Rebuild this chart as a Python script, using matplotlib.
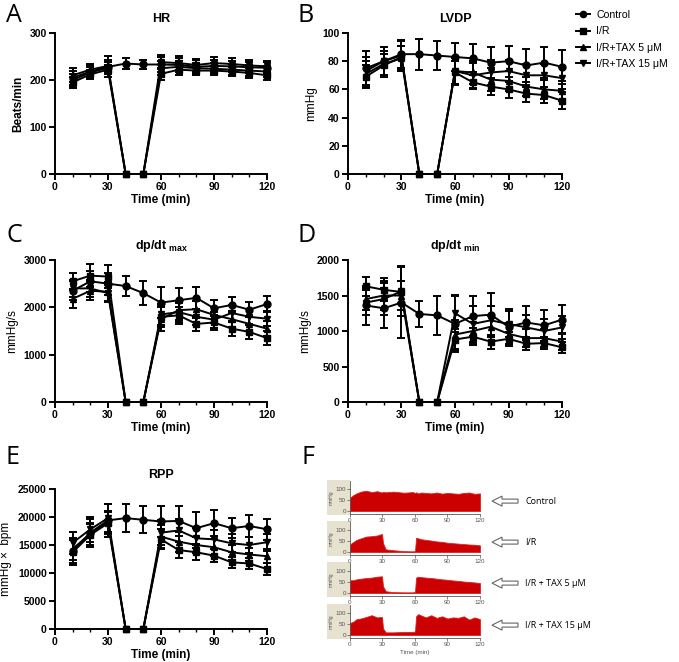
import matplotlib
matplotlib.use("Agg")
import matplotlib.pyplot as plt
from matplotlib.lines import Line2D
from matplotlib.patches import Rectangle, FancyArrow

plt.rcParams['font.family'] = ['Liberation Sans', 'DejaVu Sans']
plt.rcParams['mathtext.fontset'] = 'custom'
plt.rcParams['mathtext.rm'] = 'Liberation Sans:bold'
plt.rcParams['mathtext.bf'] = 'Liberation Sans:bold'

# ---------------- data ----------------
time = [10, 20, 30, 40, 50, 60, 70, 80, 90, 100, 110, 120]
groups = ["Control", "I/R", "I/R+TAX 5 \u03bcM", "I/R+TAX 15 \u03bcM"]
markers = ["o", "s", "^", "v"]

hr_mean = {
    "Control": [205, 218, 228, 235, 233, 233, 232, 228, 230, 229, 227, 226],
    "I/R":     [195, 212, 222, 0, 0, 213, 222, 220, 220, 218, 215, 210],
    "TAX5":    [210, 222, 230, 0, 0, 225, 228, 225, 224, 222, 220, 218],
    "TAX15":   [200, 216, 226, 0, 0, 238, 236, 232, 236, 234, 231, 229],
}
hr_err = {
    "Control": [15, 14, 22, 12, 10, 15, 15, 14, 12, 12, 12, 12],
    "I/R":     [12, 10, 10, 0, 0, 12, 12, 10, 10, 10, 10, 10],
    "TAX5":    [15, 12, 12, 0, 0, 15, 12, 12, 12, 12, 12, 12],
    "TAX15":   [12, 12, 12, 0, 0, 15, 15, 12, 12, 12, 12, 12],
}

lvdp_mean = {
    "Control": [75, 80, 85, 85, 84, 83, 82, 79, 80, 77, 79, 76],
    "I/R":     [69, 77, 83, 0, 0, 72, 65, 62, 60, 57, 56, 52],
    "TAX5":    [71, 78, 82, 0, 0, 73, 72, 67, 66, 62, 60, 59],
    "TAX15":   [73, 80, 84, 0, 0, 73, 70, 72, 73, 70, 70, 68],
}
lvdp_err = {
    "Control": [12, 10, 10, 11, 10, 10, 10, 11, 11, 12, 11, 12],
    "I/R":     [8, 8, 8, 0, 0, 8, 5, 6, 6, 6, 6, 6],
    "TAX5":    [9, 9, 9, 0, 0, 9, 8, 8, 7, 7, 7, 7],
    "TAX15":   [10, 10, 10, 0, 0, 10, 9, 9, 8, 8, 8, 8],
}

dpmax_mean = {
    "Control": [2350, 2550, 2500, 2450, 2300, 2100, 2150, 2200, 1980, 2050, 1950, 2070],
    "I/R":     [2550, 2670, 2650, 0, 0, 1800, 1830, 1650, 1680, 1550, 1480, 1350],
    "TAX5":    [2180, 2350, 2330, 0, 0, 1750, 1940, 1960, 1840, 1750, 1650, 1550],
    "TAX15":   [2400, 2400, 2300, 0, 0, 1850, 1900, 1800, 1740, 1880, 1800, 1760],
}
dpmax_err = {
    "Control": [200, 220, 230, 220, 250, 330, 250, 230, 170, 170, 160, 160],
    "I/R":     [180, 250, 240, 0, 0, 220, 180, 150, 160, 150, 150, 150],
    "TAX5":    [200, 200, 200, 0, 0, 250, 200, 180, 170, 170, 160, 160],
    "TAX15":   [180, 180, 180, 0, 0, 220, 200, 170, 170, 170, 160, 160],
}

dpmin_mean = {
    "Control": [1360, 1320, 1400, 1240, 1220, 1100, 1210, 1230, 1060, 1120, 1080, 1160],
    "I/R":     [1630, 1580, 1550, 0, 0, 880, 920, 850, 890, 820, 830, 770],
    "TAX5":    [1450, 1500, 1500, 0, 0, 950, 1000, 1060, 960, 900, 900, 850],
    "TAX15":   [1400, 1450, 1560, 0, 0, 1250, 1100, 1150, 1100, 1050, 1000, 1050],
}
dpmin_err = {
    "Control": [270, 280, 500, 180, 280, 400, 280, 300, 250, 230, 220, 200],
    "I/R":     [130, 160, 160, 0, 0, 150, 120, 100, 100, 90, 90, 80],
    "TAX5":    [150, 200, 200, 0, 0, 200, 180, 150, 150, 130, 130, 120],
    "TAX15":   [180, 220, 350, 0, 0, 260, 250, 200, 180, 170, 170, 160],
}

rpp_mean = {
    "Control": [14000, 17200, 19400, 19800, 19500, 19200, 19300, 18000, 18900, 18000, 18400, 17800],
    "I/R":     [13700, 16800, 18900, 0, 0, 16000, 14100, 13700, 13100, 11900, 11700, 10700],
    "TAX5":    [14300, 17000, 19100, 0, 0, 16500, 15600, 15000, 14600, 13700, 13300, 13000],
    "TAX15":   [15400, 17800, 19800, 0, 0, 17200, 17600, 16200, 16000, 15300, 15000, 15500],
}
rpp_err = {
    "Control": [2200, 2500, 3000, 2500, 2400, 2800, 2700, 2900, 2300, 1800, 1900, 1900],
    "I/R":     [2200, 2000, 2000, 0, 0, 1800, 1500, 1300, 1200, 1000, 1000, 1000],
    "TAX5":    [2000, 2000, 2000, 0, 0, 2000, 1800, 1500, 1500, 1300, 1200, 1200],
    "TAX15":   [2000, 2200, 2500, 0, 0, 2200, 2000, 1800, 1700, 1600, 1500, 1500],
}

series_keys = ["Control", "I/R", "TAX5", "TAX15"]

# Panel F traces (upper envelope of pressure, mmHg)
trace_t = [0, 3, 6, 10, 15, 20, 25, 29.5, 30.5, 33, 40, 50, 58, 60, 61, 63, 66, 70, 75, 80,
           85, 90, 95, 100, 105, 110, 115, 120]
trace_names = ["Control", "I/R", "I/R + TAX 5 \u03bcM", "I/R + TAX 15 \u03bcM"]
trace_ctrl = [60, 72, 80, 88, 92, 86, 90, 84, 87, 85, 88, 83, 86, 82, 85, 80, 84, 82, 80, 84,
              79, 82, 80, 78, 82, 84, 78, 80]
trace_ir = [35, 45, 55, 62, 70, 72, 75, 82, 40, 12, 8, 4, 3, 4, 65, 62, 58, 55, 52, 48,
            46, 42, 40, 38, 36, 34, 33, 30]
trace_tax5 = [58, 58, 62, 65, 68, 70, 74, 76, 30, 8, 4, 3, 3, 5, 70, 74, 72, 70, 68, 65,
              62, 60, 57, 55, 52, 50, 48, 45]
trace_tax15 = [55, 60, 72, 75, 82, 90, 80, 82, 30, 12, 12, 14, 14, 16, 85, 95, 88, 80, 90, 78,
               85, 75, 80, 78, 85, 70, 80, 72]
trace_vals = [trace_ctrl, trace_ir, trace_tax5, trace_tax15]

# ---------------- figure ----------------
W, H = 679, 662
fig = plt.figure(figsize=(W / 100, H / 100), dpi=100)


def px_axes(x0, x1, ytop, ybot):
    return fig.add_axes([x0 / W, 1 - ybot / H, (x1 - x0) / W, (ybot - ytop) / H])


def draw_panel(ax, means, errs, ymax, ystep, title, ylabel, ylabel_bold=True):
    for key, mk in zip(series_keys, markers):
        ax.errorbar(time, means[key], yerr=errs[key], color="black", marker=mk,
                    markersize=5, lw=1.4, elinewidth=1.4, capsize=3.2, capthick=1.4,
                    clip_on=False, zorder=3)
    ax.set_xlim(0, 120)
    ax.set_ylim(0, ymax)
    ax.set_xticks([0, 30, 60, 90, 120])
    ax.set_xticks(range(0, 121, 10), minor=True)
    ax.set_yticks(range(0, ymax + 1, ystep))
    for s in ["top", "right"]:
        ax.spines[s].set_visible(False)
    for s in ["left", "bottom"]:
        ax.spines[s].set_linewidth(1.4)
    ax.tick_params(axis="both", which="major", length=4, width=1.4, labelsize=7.5, pad=2)
    ax.tick_params(axis="x", which="minor", length=2, width=1.0)
    for lab in ax.get_xticklabels() + ax.get_yticklabels():
        lab.set_fontweight("bold")
    ax.set_xlabel("Time (min)", fontsize=8.5, fontweight="bold", labelpad=1)
    ax.set_ylabel(ylabel, fontsize=8.5, fontweight="bold" if ylabel_bold else "normal", labelpad=4)
    ax.set_title(title, fontsize=9, fontweight="bold", pad=8)


axA = px_axes(55, 267, 33, 174)
draw_panel(axA, hr_mean, hr_err, 300, 100, "HR", "Beats/min")
axB = px_axes(348, 562, 33, 174)
draw_panel(axB, lvdp_mean, lvdp_err, 100, 20, "LVDP", "mmHg", ylabel_bold=False)
axC = px_axes(55, 267, 260, 402)
draw_panel(axC, dpmax_mean, dpmax_err, 3000, 1000, r"dp/dt$_{\rm\ max}$", "mmHg/s", ylabel_bold=False)
axD = px_axes(348, 562, 260, 402)
draw_panel(axD, dpmin_mean, dpmin_err, 2000, 500, r"dp/dt$_{\rm\ min}$", "mmHg/s", ylabel_bold=False)
axE = px_axes(55, 267, 489, 629)
draw_panel(axE, rpp_mean, rpp_err, 25000, 5000, "RPP", "mmHg \u00d7  bpm", ylabel_bold=False)

# legend
handles = [Line2D([0], [0], color="black", marker=m, markersize=4.5, lw=1.4) for m in markers]
fig.legend(handles, groups, loc="upper left", bbox_to_anchor=(576 / W, 1 - 10 / H),
           frameon=False, fontsize=7.6, handlelength=1.3, handletextpad=0.6,
           labelspacing=0.6, borderaxespad=0, borderpad=0)

# overlay in pixel coords for letters / arrows / boxes
ov = fig.add_axes([0, 0, 1, 1], zorder=-1)
ov.set_xlim(0, W)
ov.set_ylim(H, 0)
ov.axis("off")
ov2 = fig.add_axes([0, 0, 1, 1], zorder=5)
ov2.set_xlim(0, W)
ov2.set_ylim(H, 0)
ov2.axis("off")
for letter, (lx, ly) in zip("ABCDEF", [(6, 16), (298, 16), (6, 236), (298, 236), (6, 457), (302, 458)]):
    ov2.text(lx, ly, letter, fontsize=18, family="Open Sans", va="center", ha="left")

# Panel F traces
zero_px = [511, 552, 593, 635]
scale = 0.22  # px per mmHg
for i, (vals, name, y0) in enumerate(zip(trace_vals, trace_names, zero_px)):
    ytop = y0 - 135 * scale
    ybot = y0 + 14 * scale
    ov.add_patch(Rectangle((327, ytop - 1), 23, ybot - ytop + 2, facecolor="#e6e2cf",
                           edgecolor="none"))
    axf = px_axes(350, 480, ytop, ybot)
    axf.fill_between(trace_t, 0, vals, color="#cc0000", lw=0.6, edgecolor="#dd2020")
    axf.set_xlim(0, 120)
    axf.set_ylim(-14, 135)
    axf.set_xticks([0, 30, 60, 90, 120])
    axf.set_yticks([0, 50, 100])
    axf.patch.set_alpha(0)
    for s in ["top", "right"]:
        axf.spines[s].set_visible(False)
    for s in ["left", "bottom"]:
        axf.spines[s].set_linewidth(0.6)
        axf.spines[s].set_color("#555555")
    axf.tick_params(length=2, width=0.5, labelsize=4.5, pad=1, colors="#555555")
    axf.set_ylabel("mmHg", fontsize=3.5, color="#555555", labelpad=1)
    if i == 3:
        axf.set_xlabel("Time (min)", fontsize=4.5, color="#555555", labelpad=2)
    yc = y0 - 45 * scale
    ov2.add_patch(FancyArrow(518, yc, -26, 0, width=4, head_width=10, head_length=10,
                             length_includes_head=True, facecolor="white",
                             edgecolor="#666666", lw=0.8))
    ov2.text(525, yc, name, fontsize=6.5, family="Open Sans", va="center", ha="left")

fig.savefig("out.png", dpi=100)
